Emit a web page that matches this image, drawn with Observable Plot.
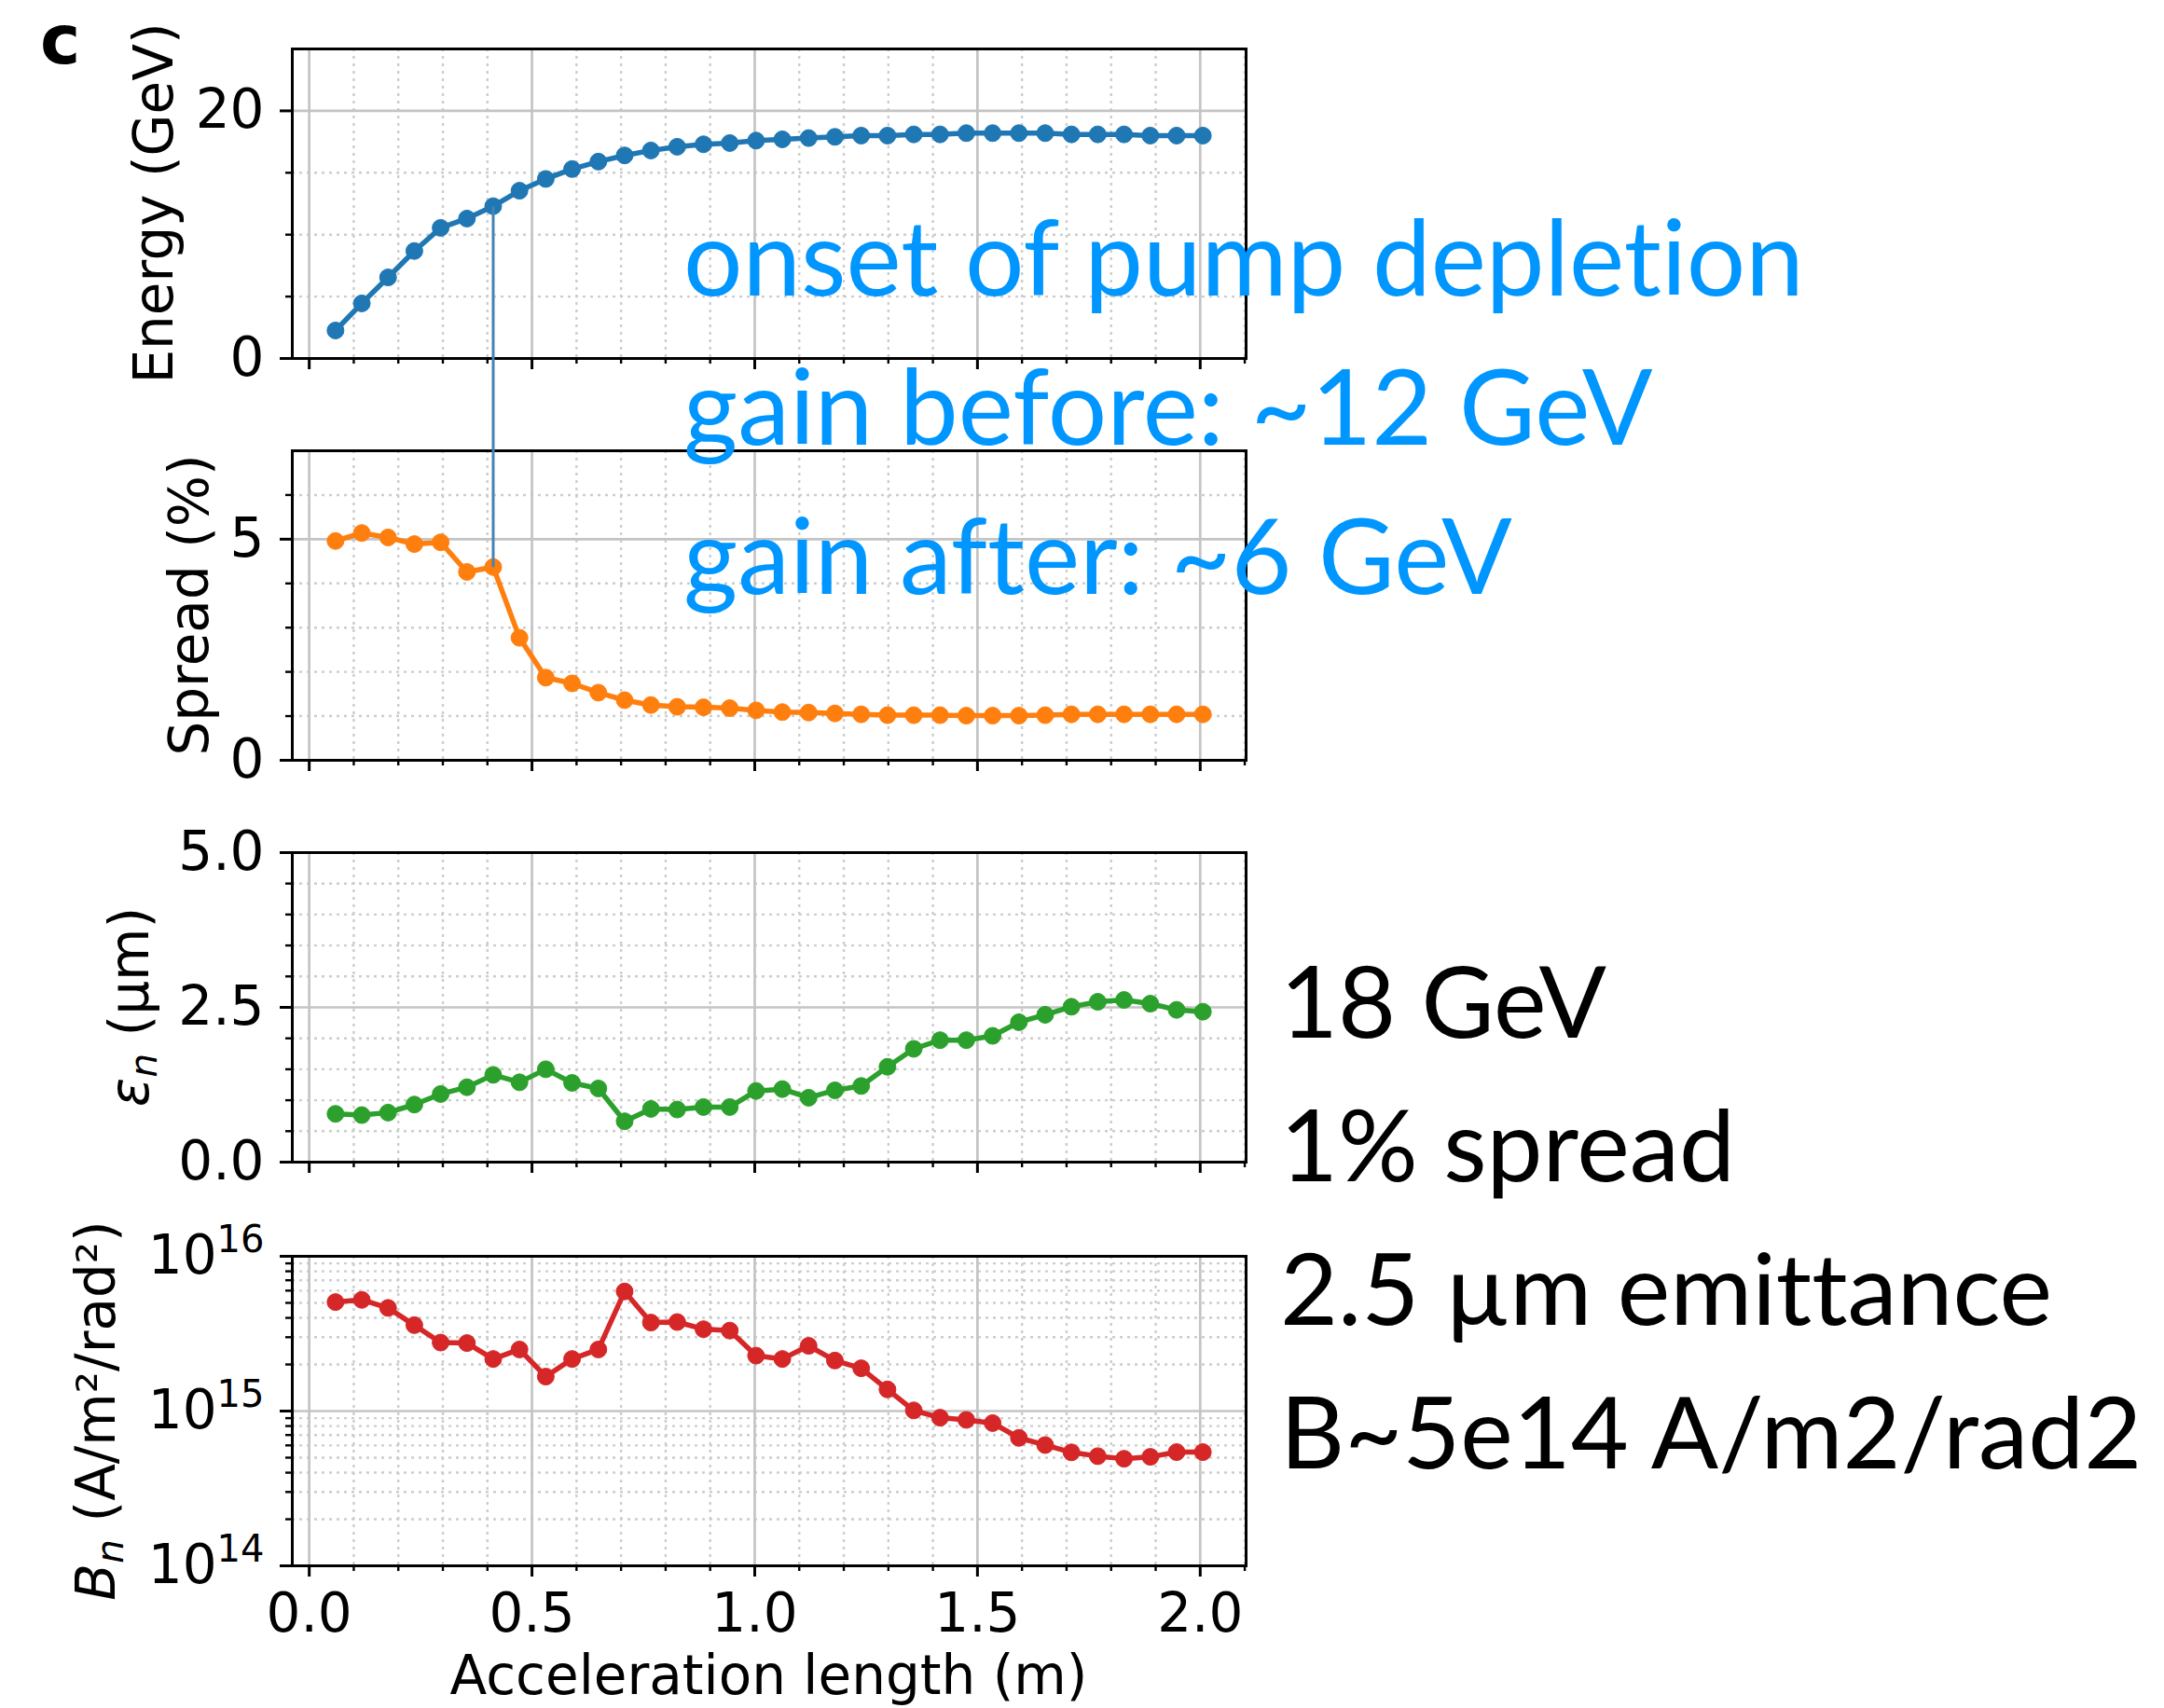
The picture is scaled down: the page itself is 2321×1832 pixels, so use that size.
<!DOCTYPE html>
<html>
<head>
<meta charset="utf-8">
<script src="https://cdn.jsdelivr.net/npm/d3@7"></script>
<script src="https://cdn.jsdelivr.net/npm/@observablehq/plot@0.6"></script>
<style>
  html, body { margin: 0; padding: 0; background: #fff; }
  #wrap { position: relative; width: 2321px; height: 1832px; overflow: hidden; background: #fff; }
  #wrap > svg { position: absolute; left: 0; max-width: none !important; }
  .note { font-variant-ligatures: none; font-feature-settings: "liga" 0, "clig" 0; }
</style>
</head>
<body>
<div id="wrap"></div>
<script>
// ---------------- data ----------------
const lengthM = [0.059, 0.118, 0.177, 0.236, 0.295, 0.354, 0.413, 0.472, 0.531, 0.590, 0.649, 0.708,
  0.767, 0.826, 0.885, 0.944, 1.003, 1.062, 1.121, 1.180, 1.239, 1.298, 1.357, 1.416, 1.475, 1.534,
  1.593, 1.652, 1.711, 1.770, 1.829, 1.888, 1.947, 2.006];
const energyGeV = [2.26, 4.45, 6.55, 8.68, 10.55, 11.3, 12.3, 13.55, 14.5, 15.3, 15.9, 16.4, 16.8,
  17.1, 17.3, 17.4, 17.6, 17.7, 17.8, 17.9, 18.0, 18.0, 18.1, 18.1, 18.2, 18.2, 18.2, 18.2, 18.1,
  18.1, 18.1, 18.0, 18.0, 18.0];
const spreadPct = [4.96, 5.14, 5.04, 4.89, 4.93, 4.26, 4.37, 2.77, 1.87, 1.74, 1.53, 1.36, 1.25,
  1.21, 1.20, 1.18, 1.13, 1.09, 1.08, 1.06, 1.04, 1.02, 1.02, 1.02, 1.01, 1.01, 1.01, 1.02, 1.04,
  1.04, 1.04, 1.04, 1.04, 1.04];
const emittanceUm = [0.78, 0.76, 0.80, 0.93, 1.10, 1.21, 1.41, 1.29, 1.50, 1.28, 1.19, 0.66, 0.86,
  0.85, 0.89, 0.89, 1.15, 1.18, 1.04, 1.16, 1.23, 1.54, 1.83, 1.97, 1.97, 2.04, 2.26, 2.38, 2.51,
  2.59, 2.62, 2.56, 2.46, 2.43];
const brightness = [5.06e15, 5.23e15, 4.64e15, 3.59e15, 2.77e15, 2.75e15, 2.17e15, 2.50e15, 1.67e15,
  2.17e15, 2.50e15, 5.93e15, 3.73e15, 3.76e15, 3.38e15, 3.31e15, 2.28e15, 2.17e15, 2.64e15, 2.12e15,
  1.89e15, 1.38e15, 1.01e15, 9.06e14, 8.77e14, 8.36e14, 6.71e14, 6.03e14, 5.41e14, 5.11e14, 4.92e14,
  5.06e14, 5.43e14, 5.43e14];
const onsetIndex = 6;

const xDomain = [-0.038, 2.103];
const xMajorTicks = [0, 0.5, 1.0, 1.5, 2.0];
const xMinorTicks = [0.1, 0.2, 0.3, 0.4, 0.6, 0.7, 0.8, 0.9, 1.1, 1.2, 1.3, 1.4, 1.6, 1.7, 1.8, 1.9, 2.1];
const energyDomain = [0, 25];
const energyTicks = [0, 20];
const energyMinor = [5, 10, 15];
const spreadDomain = [0, 7];
const spreadTicks = [0, 5];
const spreadMinor = [1, 2, 3, 4, 6];
const emitDomain = [0, 5];
const emitTicks = [0, 2.5, 5.0];
const emitMinor = [0.5, 1.0, 1.5, 2.0, 3.0, 3.5, 4.0, 4.5];
const brightDomain = [1e14, 1e16];
const brightTicks = [1e14, 1e15, 1e16];
const brightMinor = [2e14, 3e14, 4e14, 5e14, 6e14, 7e14, 8e14, 9e14, 2e15, 3e15, 4e15, 5e15, 6e15, 7e15, 8e15, 9e15];

const panelLabel = "c";
const xLabel = "Acceleration length (m)";
const blueNotes = ["onset of pump depletion", "gain before: ~12 GeV", "gain after: ~6 GeV"];
const blackNotes = ["18 GeV", "1% spread", "2.5 µm emittance", "B~5e14 A/m2/rad2"];

// ---------------- layout ----------------
const W = 2321, H = 1832;
const FL = 313, FR = 1336, MT = 52, FH = 332;
const TICK_FONT = 58;
const wrap = document.getElementById("wrap");

function makePanel(values, color, opt) {
  const rows = lengthM.map((x, i) => ({x, v: values[i]}));
  const mb = opt.marginBottom;
  const xMajorAxis = opt.showX
    ? Plot.axisX(xMajorTicks, {tickSize: 12, tickPadding: 17, strokeWidth: 3, fontSize: TICK_FONT,
        tickFormat: d3.format(".1f"), label: null})
    : Plot.axisX(xMajorTicks, {tickSize: 12, strokeWidth: 3, fill: "none", label: null});
  const svg = Plot.plot({
    width: W,
    height: MT + FH + mb,
    marginTop: MT, marginBottom: mb, marginLeft: FL, marginRight: W - FR,
    style: {fontFamily: "'DejaVu Sans', sans-serif", background: "transparent", overflow: "visible", color: "black"},
    x: {domain: xDomain},
    y: {type: opt.type || "linear", domain: opt.domain},
    marks: [
      Plot.gridX(xMinorTicks, {stroke: "#cdcdcd", strokeOpacity: 1, strokeWidth: 2.4, strokeDasharray: "3 5"}),
      Plot.gridY(opt.minor, {stroke: "#cdcdcd", strokeOpacity: 1, strokeWidth: 2.4, strokeDasharray: "3 5"}),
      Plot.gridX(xMajorTicks, {stroke: "#c4c4c4", strokeOpacity: 1, strokeWidth: 2.7}),
      Plot.gridY(opt.ticks, {stroke: "#c4c4c4", strokeOpacity: 1, strokeWidth: 2.7}),
      Plot.line(rows, {x: "x", y: "v", stroke: color, strokeWidth: 5.5}),
      Plot.dot(rows, {x: "x", y: "v", r: 9, fill: color, stroke: color, strokeWidth: 1}),
      Plot.frame({stroke: "black", strokeWidth: 3}),
      Plot.axisY(opt.ticks, {tickSize: 13, tickPadding: 17, strokeWidth: 3, fontSize: TICK_FONT,
        tickFormat: opt.format, label: null}),
      Plot.axisY(opt.minor, {tickSize: 7, strokeWidth: 2.4, fill: "none", label: null}),
      xMajorAxis,
      Plot.axisX(xMinorTicks, {tickSize: 6, strokeWidth: 2.4, fill: "none", label: null})
    ]
  });
  svg.style.top = opt.top + "px";
  wrap.append(svg);
  return svg;
}

const p1 = makePanel(energyGeV, "#1f77b4", {top: 0, marginBottom: 40, domain: energyDomain,
  ticks: energyTicks, minor: energyMinor, format: d3.format("d")});
const p2 = makePanel(spreadPct, "#ff7f0e", {top: 431, marginBottom: 40, domain: spreadDomain,
  ticks: spreadTicks, minor: spreadMinor, format: d3.format("d")});
const p3 = makePanel(emittanceUm, "#2ca02c", {top: 862, marginBottom: 40, domain: emitDomain,
  ticks: emitTicks, minor: emitMinor, format: d3.format(".1f")});
const p4 = makePanel(brightness, "#d62728", {top: 1295, marginBottom: H - 1295 - MT - FH, type: "log",
  domain: brightDomain, ticks: brightTicks, minor: brightMinor,
  format: d => "10^" + Math.round(Math.log10(d)), showX: true});

// superscripts for the log tick labels
const NS = "http://www.w3.org/2000/svg";
p4.querySelectorAll("text").forEach(t => {
  const s = t.textContent;
  if (!s.includes("^")) return;
  const [base, exp] = s.split("^");
  t.textContent = "";
  const a = document.createElementNS(NS, "tspan");
  a.textContent = base;
  const b = document.createElementNS(NS, "tspan");
  b.setAttribute("dy", "-23");
  b.setAttribute("font-size", "40");
  b.textContent = exp;
  t.append(a, b);
});

// connector from the onset point (energy) to the matching spread point
const conn = [{
  x1: p1.scale("x").apply(lengthM[onsetIndex]),
  y1: p1.scale("y").apply(energyGeV[onsetIndex]) + 0,
  x2: p2.scale("x").apply(lengthM[onsetIndex]),
  y2: p2.scale("y").apply(spreadPct[onsetIndex]) + 431
}];

const overlay = Plot.plot({
  width: W, height: H, margin: 0,
  x: {type: "identity", axis: null}, y: {type: "identity", axis: null},
  style: {background: "transparent", overflow: "visible"},
  marks: [
    Plot.link(conn, {x1: "x1", y1: "y1", x2: "x2", y2: "y2", stroke: "#4682b4", strokeWidth: 3})
  ]
});
overlay.style.top = "0px";
overlay.style.pointerEvents = "none";
wrap.append(overlay);

const ov = d3.select(overlay);
const DJ = "'DejaVu Sans', sans-serif";

ov.append("text").attr("x", 43).attr("y", 68).attr("text-anchor", "start").attr("font-family", DJ)
  .attr("font-weight", "bold").attr("font-size", 73).attr("fill", "black").text(panelLabel);

function yLabel(x, y, parts) {
  const t = ov.append("text").attr("transform", `translate(${x},${y}) rotate(-90)`)
    .attr("text-anchor", "middle").attr("font-family", DJ).attr("font-size", 58).attr("fill", "black");
  parts.forEach(p => {
    const s = t.append("tspan").text(p.t);
    if (p.italic) s.attr("font-style", "italic");
    if (p.size) s.attr("font-size", p.size);
    if (p.dy) s.attr("dy", p.dy);
  });
}
yLabel(185, 218, [{t: "Energy (GeV)"}]);
yLabel(223, 649, [{t: "Spread (%)"}]);
yLabel(159, 1080, [{t: "ε", italic: true}, {t: "n", italic: true, size: 41, dy: 9}, {t: " (µm)", dy: -9}]);
yLabel(123, 1513, [{t: "B", italic: true}, {t: "n", italic: true, size: 41, dy: 9}, {t: " (A/m²/rad²)", dy: -9}]);

ov.append("text").attr("x", (FL + FR) / 2).attr("y", 1817).attr("text-anchor", "middle")
  .attr("font-family", DJ).attr("font-size", 58).attr("fill", "black").text(xLabel);

const blueY = [317, 477, 637];
blueNotes.forEach((s, i) => {
  ov.append("text").attr("class", "note").attr("x", 733).attr("y", blueY[i]).attr("text-anchor", "start")
    .attr("font-family", "Lato").attr("font-size", 112).attr("fill", "#0096ff").text(s);
});
const blackY = [1113, 1267, 1421, 1575];
blackNotes.forEach((s, i) => {
  ov.append("text").attr("class", "note").attr("x", 1373).attr("y", blackY[i]).attr("text-anchor", "start")
    .attr("font-family", "Lato").attr("font-size", 107).attr("fill", "black").text(s);
});
</script>
</body>
</html>
